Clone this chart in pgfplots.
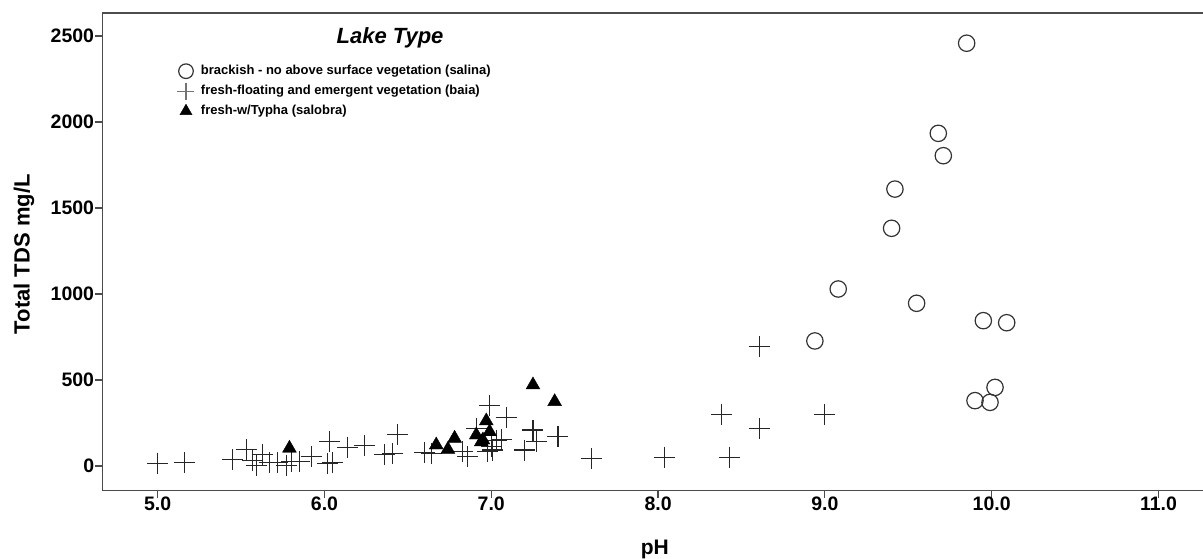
\documentclass[border=0pt]{standalone}
\usepackage{pgfplots}
\pgfplotsset{compat=1.18}
\usepackage{fontspec}
\setmainfont{Liberation Sans}

% brackish lakes
\pgfplotstableread{
ph tds
8.94 727
9.08 1029
9.40 1382
9.42 1610
9.55 946
9.68 1934
9.71 1804
9.85 2458
9.90 380
9.95 845
9.99 370
10.02 457
10.09 833
}\salina

% fresh lakes with floating and emergent vegetation
\pgfplotstableread{
ph tds
5.00 16
5.16 19
5.45 37
5.53 95
5.57 30
5.59 5
5.63 68
5.67 22
5.72 18
5.77 5
5.80 28
5.85 25
5.92 54
6.02 12
6.03 141
6.05 18
6.14 110
6.24 117
6.36 68
6.41 74
6.44 184
6.60 77
6.64 72
6.83 83
6.86 54
6.91 219
6.98 83
6.99 350
7.00 112
7.01 93
7.03 150
7.06 152
7.09 282
7.20 93
7.25 209
7.27 141
7.40 174
7.60 41
8.04 51
8.38 302
8.43 51
8.61 694
8.61 219
9.00 302
}\baia

% fresh lakes with Typha
\pgfplotstableread{
ph tds
5.79 103
6.67 122
6.74 97
6.78 161
6.91 180
6.94 140
6.95 151
6.97 262
6.99 199
7.25 471
7.38 374
}\salobra

\begin{document}
\begin{tikzpicture}
\useasboundingbox (-102.3pt,-68.3pt) rectangle (1100.7pt,490.7pt);
\begin{axis}[
  at={(0pt,0pt)}, anchor=south west,
  scale only axis,
  width=1105pt, height=477.7pt,
  xmin=4.668, xmax=11.293,
  ymin=-143.6, ymax=2633.7,
  xtick={5,6,...,11},
  ytick={0,500,...,2500},
  xtick pos=bottom, ytick pos=left,
  tick align=outside,
  major tick length=7pt,
  axis line style={draw=black!70, line width=1.2pt},
  every tick/.style={draw=black!70, line width=1.2pt},
  x tick label style={font=\fontsize{19.5}{23}\selectfont\bfseries, yshift=4pt,
    /pgf/number format/.cd, fixed, fixed zerofill, precision=1, assume math mode=true},
  y tick label style={font=\fontsize{19.5}{23}\selectfont\bfseries, anchor=east, inner sep=1pt,
    /pgf/number format/.cd, fixed, precision=0, 1000 sep={}, assume math mode=true},
  xlabel={pH},
  ylabel={Total TDS mg/L},
  every axis x label/.style={at={(axis description cs:0.5,0)}, anchor=base, yshift=-64.3pt,
    font=\fontsize{21}{25}\selectfont\bfseries},
  every axis y label/.style={at={(axis description cs:-0.0709,0.495)}, anchor=center, rotate=90,
    font=\fontsize{22}{26}\selectfont\bfseries},
  clip=false,
  legend style={at={(axis description cs:0,1)}, anchor=north west,
    xshift=72pt, yshift=-46pt,
    draw=none, fill=none,
    font=\fontsize{13}{16}\selectfont\bfseries,
    row sep=0pt, column sep=3pt,
    nodes={text height=10pt, text depth=3pt, inner sep=3.5pt}},
  legend cell align=left,
  legend image code/.code={\draw[#1] plot coordinates {(0pt,0pt)};},
]
\addplot[only marks, mark=o, mark size=8.2pt, draw=black!80, line width=1.2pt,
  legend image post style={mark size=7.3pt}]
  table[x=ph, y=tds] {\salina};
\addlegendentry{brackish - no above surface vegetation (salina)}
\addplot[only marks, mark=+, mark size=10.5pt, draw=black!85, line width=1.1pt,
  legend image post style={mark size=8.5pt, draw=black!55}]
  table[x=ph, y=tds] {\baia};
\addlegendentry{fresh-floating and emergent vegetation (baia)}
\addplot[only marks, mark=triangle*, mark size=8pt, draw=black, fill=black,
  legend image post style={mark size=7pt}]
  table[x=ph, y=tds] {\salobra};
\addlegendentry{fresh-w/Typha (salobra)}
\node[font=\fontsize{22}{26}\selectfont\bfseries\itshape, anchor=center]
  at (axis description cs:0.2604,0.947) {Lake Type};
\end{axis}
\end{tikzpicture}
\end{document}
